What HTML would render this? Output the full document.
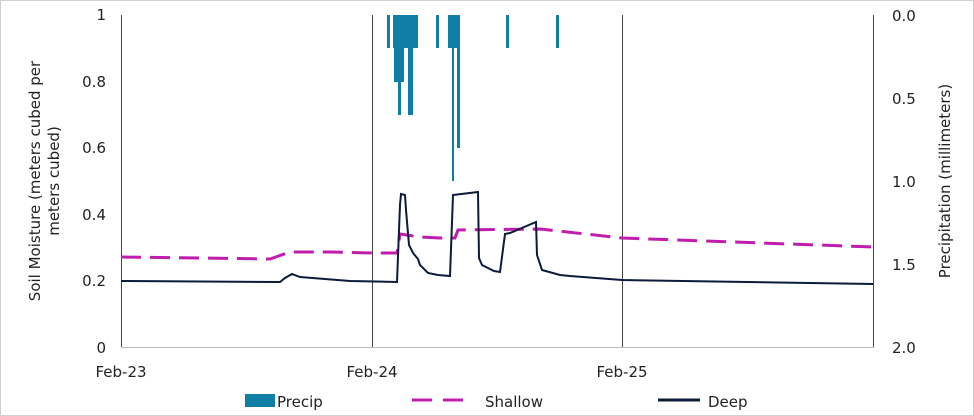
<!DOCTYPE html>
<html><head><meta charset="utf-8"><style>
html,body{margin:0;padding:0;background:#fff}
svg{display:block}
text{font-family:"DejaVu Sans","Liberation Sans",sans-serif;font-size:15px;fill:#222}
</style></head><body>
<svg width="974" height="416" viewBox="0 0 974 416">
<rect x="0.5" y="0.5" width="973" height="415" fill="#fff" stroke="#d0d0d0"/>
<g stroke="#444" stroke-width="1">
<line x1="121.5" y1="15" x2="121.5" y2="347"/>
<line x1="372.5" y1="15" x2="372.5" y2="347"/>
<line x1="622.5" y1="15" x2="622.5" y2="347"/>
<line x1="873.5" y1="15" x2="873.5" y2="347"/>
</g>
<line x1="121" y1="347.5" x2="874" y2="347.5" stroke="#bbb"/>
<g fill="#0f7fa6">
<rect x="387" y="15" width="3" height="33"/>
<rect x="393" y="15" width="10" height="33"/>
<rect x="394" y="15" width="10" height="67"/>
<rect x="398" y="15" width="3" height="100"/>
<rect x="404" y="15" width="4" height="33"/>
<rect x="408" y="15" width="5" height="100"/>
<rect x="413" y="15" width="5" height="33"/>
<rect x="436" y="15" width="3" height="33"/>
<rect x="448" y="15" width="11" height="33"/>
<rect x="452" y="15" width="2" height="166"/>
<rect x="457" y="15" width="3" height="133"/>
<rect x="506" y="15" width="3" height="33"/>
<rect x="556" y="15" width="3" height="33"/>
</g>
<polyline fill="none" stroke="#c01cad" stroke-width="3" stroke-dasharray="20,9" points="121,257 270,259 290,252 330,252 372,253 397,253 400,234 420,237 440,238 455,238 458,230 540,229 622,238 873,247"/>
<polyline fill="none" stroke="#0c1b3a" stroke-width="2" points="121,281 280,282 285,278 292,274 300,277 350,281 397,282 400,205 401,194 405,195 406,210 409,245 413,253 418,259 420,265 428,273 438,275 450,276 453,195 478,192 479,258 482,265 494,271 500,272 505,234 510,233 536,222 537,255 542,270 560,275 570,276 622,280 873,284"/>
<g text-anchor="end">
<text x="106" y="20">1</text>
<text x="106" y="87">0.8</text>
<text x="106" y="153">0.6</text>
<text x="106" y="220">0.4</text>
<text x="106" y="286">0.2</text>
<text x="106" y="353">0</text>
</g>
<g>
<text x="892" y="21">0.0</text>
<text x="892" y="104">0.5</text>
<text x="892" y="187">1.0</text>
<text x="892" y="270">1.5</text>
<text x="892" y="353">2.0</text>
</g>
<g text-anchor="middle">
<text x="121" y="377">Feb-23</text>
<text x="372" y="377">Feb-24</text>
<text x="622" y="377">Feb-25</text>
<text transform="translate(40,181) rotate(-90)">Soil Moisture (meters cubed per</text>
<text transform="translate(59,181) rotate(-90)">meters cubed)</text>
<text transform="translate(950,181) rotate(-90)">Precipitation  (millimeters)</text>
</g>
<rect x="245" y="394" width="30" height="13" fill="#0f7fa6"/>
<text x="277" y="407">Precip</text>
<line x1="412" y1="400" x2="474" y2="400" stroke="#c01cad" stroke-width="3" stroke-dasharray="20,11"/>
<text x="485" y="407">Shallow</text>
<line x1="658" y1="400" x2="700" y2="400" stroke="#0c1b3a" stroke-width="3"/>
<text x="708" y="407">Deep</text>
</svg>
</body></html>
